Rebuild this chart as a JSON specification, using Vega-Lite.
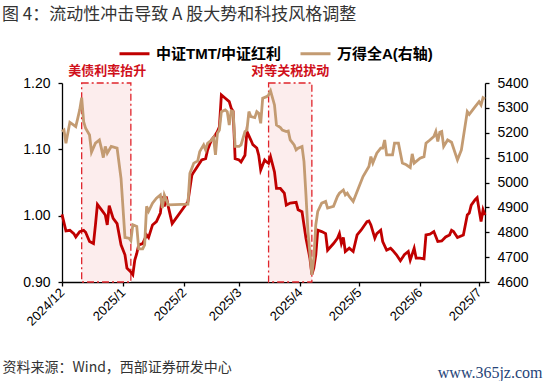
{
  "$schema": "https://vega.github.io/schema/vega-lite/v6.json",
  "width": 423,
  "height": 199,
  "autosize": {"type": "none"},
  "padding": {"left": 62, "top": 83, "right": 65, "bottom": 99},
  "background": "white",
  "config": {
    "view": {"stroke": null},
    "font": "Liberation Sans, Noto Sans CJK SC",
    "axis": {"grid": false, "domainColor": "#000000", "tickColor": "#000000", "labelColor": "#000000", "domainWidth": 1.3, "tickWidth": 1.3, "tickSize": 4, "labelFont": "Liberation Sans"}
  },
  "title": {
    "text": "图 4：流动性冲击导致 A 股大势和科技风格调整",
    "anchor": "start",
    "frame": "group",
    "dx": -60,
    "offset": 13,
    "fontSize": 17,
    "fontWeight": "normal",
    "color": "#333333",
    "font": "Noto Sans CJK SC"
  },
  "datasets": {
    "spans": [
      {"event": "美债利率抬升", "start": "2024-12-11", "end": "2025-01-05", "mid": "2024-12-24"},
      {"event": "对等关税扰动", "start": "2025-03-16", "end": "2025-04-07", "mid": "2025-03-27"}
    ],
    "tmt": [
      {"date": "2024-12-01", "value": 1.002}, {"date": "2024-12-03", "value": 0.977}, {"date": "2024-12-05", "value": 0.978},
      {"date": "2024-12-07", "value": 0.973}, {"date": "2024-12-08", "value": 0.968}, {"date": "2024-12-10", "value": 0.976},
      {"date": "2024-12-12", "value": 0.978}, {"date": "2024-12-13", "value": 0.975}, {"date": "2024-12-15", "value": 0.961},
      {"date": "2024-12-17", "value": 0.958}, {"date": "2024-12-18", "value": 0.986}, {"date": "2024-12-19", "value": 1.017},
      {"date": "2024-12-21", "value": 1.009}, {"date": "2024-12-23", "value": 1.001}, {"date": "2024-12-24", "value": 0.986},
      {"date": "2024-12-25", "value": 1.015}, {"date": "2024-12-27", "value": 0.996}, {"date": "2024-12-29", "value": 0.988},
      {"date": "2024-12-31", "value": 0.956}, {"date": "2025-01-02", "value": 0.941}, {"date": "2025-01-03", "value": 0.921},
      {"date": "2025-01-05", "value": 0.915}, {"date": "2025-01-06", "value": 0.911}, {"date": "2025-01-07", "value": 0.933},
      {"date": "2025-01-08", "value": 0.943}, {"date": "2025-01-09", "value": 0.956}, {"date": "2025-01-11", "value": 0.958},
      {"date": "2025-01-13", "value": 0.971}, {"date": "2025-01-14", "value": 0.967}, {"date": "2025-01-16", "value": 0.986},
      {"date": "2025-01-18", "value": 0.991}, {"date": "2025-01-20", "value": 1.004}, {"date": "2025-01-21", "value": 1.029},
      {"date": "2025-01-22", "value": 1.014}, {"date": "2025-01-23", "value": 1.029}, {"date": "2025-01-24", "value": 1.014},
      {"date": "2025-01-26", "value": 0.988}, {"date": "2025-02-03", "value": 1.021}, {"date": "2025-02-05", "value": 1.061},
      {"date": "2025-02-06", "value": 1.066}, {"date": "2025-02-08", "value": 1.075}, {"date": "2025-02-10", "value": 1.084},
      {"date": "2025-02-12", "value": 1.086}, {"date": "2025-02-13", "value": 1.099}, {"date": "2025-02-14", "value": 1.107},
      {"date": "2025-02-15", "value": 1.114}, {"date": "2025-02-17", "value": 1.122}, {"date": "2025-02-18", "value": 1.127},
      {"date": "2025-02-19", "value": 1.134}, {"date": "2025-02-20", "value": 1.182}, {"date": "2025-02-22", "value": 1.177},
      {"date": "2025-02-24", "value": 1.172}, {"date": "2025-02-25", "value": 1.162}, {"date": "2025-02-26", "value": 1.157},
      {"date": "2025-02-27", "value": 1.086}, {"date": "2025-03-01", "value": 1.084}, {"date": "2025-03-02", "value": 1.081},
      {"date": "2025-03-04", "value": 1.091}, {"date": "2025-03-05", "value": 1.127}, {"date": "2025-03-07", "value": 1.114},
      {"date": "2025-03-08", "value": 1.107}, {"date": "2025-03-10", "value": 1.102}, {"date": "2025-03-11", "value": 1.091},
      {"date": "2025-03-12", "value": 1.069}, {"date": "2025-03-14", "value": 1.084}, {"date": "2025-03-15", "value": 1.081},
      {"date": "2025-03-16", "value": 1.079}, {"date": "2025-03-17", "value": 1.089}, {"date": "2025-03-19", "value": 1.066},
      {"date": "2025-03-20", "value": 1.041}, {"date": "2025-03-22", "value": 1.041}, {"date": "2025-03-24", "value": 1.034},
      {"date": "2025-03-25", "value": 1.016}, {"date": "2025-03-27", "value": 1.019}, {"date": "2025-03-30", "value": 1.020},
      {"date": "2025-03-31", "value": 1.009}, {"date": "2025-04-02", "value": 1.006}, {"date": "2025-04-03", "value": 0.986},
      {"date": "2025-04-04", "value": 0.966}, {"date": "2025-04-06", "value": 0.936}, {"date": "2025-04-07", "value": 0.911},
      {"date": "2025-04-08", "value": 0.921}, {"date": "2025-04-09", "value": 0.941}, {"date": "2025-04-10", "value": 0.978},
      {"date": "2025-04-12", "value": 0.976}, {"date": "2025-04-14", "value": 0.973}, {"date": "2025-04-15", "value": 0.948},
      {"date": "2025-04-18", "value": 0.958}, {"date": "2025-04-20", "value": 0.966}, {"date": "2025-04-21", "value": 0.973},
      {"date": "2025-04-22", "value": 0.958}, {"date": "2025-04-23", "value": 0.967}, {"date": "2025-04-24", "value": 0.946},
      {"date": "2025-04-26", "value": 0.951}, {"date": "2025-04-28", "value": 0.946}, {"date": "2025-04-30", "value": 0.971},
      {"date": "2025-05-02", "value": 0.978}, {"date": "2025-05-05", "value": 0.991}, {"date": "2025-05-06", "value": 0.992},
      {"date": "2025-05-07", "value": 0.986}, {"date": "2025-05-09", "value": 0.966}, {"date": "2025-05-10", "value": 0.973},
      {"date": "2025-05-12", "value": 0.978}, {"date": "2025-05-13", "value": 0.961}, {"date": "2025-05-15", "value": 0.948},
      {"date": "2025-05-17", "value": 0.951}, {"date": "2025-05-18", "value": 0.948}, {"date": "2025-05-20", "value": 0.941},
      {"date": "2025-05-22", "value": 0.932}, {"date": "2025-05-24", "value": 0.941}, {"date": "2025-05-26", "value": 0.946},
      {"date": "2025-05-27", "value": 0.933}, {"date": "2025-05-29", "value": 0.951}, {"date": "2025-05-30", "value": 0.936},
      {"date": "2025-06-01", "value": 0.936}, {"date": "2025-06-03", "value": 0.935}, {"date": "2025-06-04", "value": 0.971},
      {"date": "2025-06-06", "value": 0.972}, {"date": "2025-06-08", "value": 0.976}, {"date": "2025-06-10", "value": 0.961},
      {"date": "2025-06-12", "value": 0.962}, {"date": "2025-06-14", "value": 0.968}, {"date": "2025-06-16", "value": 0.971},
      {"date": "2025-06-17", "value": 0.978}, {"date": "2025-06-18", "value": 0.976}, {"date": "2025-06-20", "value": 0.967},
      {"date": "2025-06-23", "value": 0.971}, {"date": "2025-06-25", "value": 1.001}, {"date": "2025-06-26", "value": 1.004},
      {"date": "2025-06-27", "value": 1.016}, {"date": "2025-06-29", "value": 1.024}, {"date": "2025-06-30", "value": 1.027},
      {"date": "2025-07-01", "value": 1.009}, {"date": "2025-07-02", "value": 0.991}, {"date": "2025-07-03", "value": 1.009},
      {"date": "2025-07-04", "value": 1.001}
    ],
    "wind": [
      {"date": "2024-12-01", "value": 5205}, {"date": "2024-12-02", "value": 5211}, {"date": "2024-12-03", "value": 5158},
      {"date": "2024-12-05", "value": 5242}, {"date": "2024-12-07", "value": 5231}, {"date": "2024-12-08", "value": 5225},
      {"date": "2024-12-09", "value": 5258}, {"date": "2024-12-10", "value": 5292}, {"date": "2024-12-11", "value": 5341},
      {"date": "2024-12-12", "value": 5245}, {"date": "2024-12-13", "value": 5218}, {"date": "2024-12-15", "value": 5191},
      {"date": "2024-12-16", "value": 5122}, {"date": "2024-12-18", "value": 5158}, {"date": "2024-12-20", "value": 5171},
      {"date": "2024-12-21", "value": 5138}, {"date": "2024-12-22", "value": 5100}, {"date": "2024-12-23", "value": 5145},
      {"date": "2024-12-24", "value": 5118}, {"date": "2024-12-26", "value": 5145}, {"date": "2024-12-29", "value": 5138},
      {"date": "2024-12-31", "value": 5017}, {"date": "2025-01-02", "value": 4779}, {"date": "2025-01-04", "value": 4776},
      {"date": "2025-01-05", "value": 4766}, {"date": "2025-01-06", "value": 4830}, {"date": "2025-01-08", "value": 4823},
      {"date": "2025-01-09", "value": 4733}, {"date": "2025-01-11", "value": 4733}, {"date": "2025-01-12", "value": 4749},
      {"date": "2025-01-13", "value": 4904}, {"date": "2025-01-14", "value": 4884}, {"date": "2025-01-16", "value": 4917},
      {"date": "2025-01-18", "value": 4937}, {"date": "2025-01-20", "value": 4950}, {"date": "2025-01-21", "value": 4897},
      {"date": "2025-01-22", "value": 4950}, {"date": "2025-01-24", "value": 4910}, {"date": "2025-02-03", "value": 4913},
      {"date": "2025-02-04", "value": 5037}, {"date": "2025-02-05", "value": 5057}, {"date": "2025-02-06", "value": 5078},
      {"date": "2025-02-08", "value": 5087}, {"date": "2025-02-09", "value": 5124}, {"date": "2025-02-10", "value": 5138},
      {"date": "2025-02-11", "value": 5151}, {"date": "2025-02-12", "value": 5131}, {"date": "2025-02-13", "value": 5158},
      {"date": "2025-02-15", "value": 5171}, {"date": "2025-02-16", "value": 5181}, {"date": "2025-02-17", "value": 5111},
      {"date": "2025-02-18", "value": 5198}, {"date": "2025-02-19", "value": 5211}, {"date": "2025-02-20", "value": 5285},
      {"date": "2025-02-22", "value": 5292}, {"date": "2025-02-23", "value": 5285}, {"date": "2025-02-24", "value": 5231},
      {"date": "2025-02-25", "value": 5288}, {"date": "2025-02-26", "value": 5285}, {"date": "2025-02-27", "value": 5145},
      {"date": "2025-03-01", "value": 5145}, {"date": "2025-03-02", "value": 5151}, {"date": "2025-03-04", "value": 5205},
      {"date": "2025-03-05", "value": 5211}, {"date": "2025-03-06", "value": 5285}, {"date": "2025-03-07", "value": 5265},
      {"date": "2025-03-09", "value": 5261}, {"date": "2025-03-10", "value": 5285}, {"date": "2025-03-11", "value": 5278},
      {"date": "2025-03-12", "value": 5238}, {"date": "2025-03-13", "value": 5339}, {"date": "2025-03-15", "value": 5345},
      {"date": "2025-03-16", "value": 5352}, {"date": "2025-03-17", "value": 5368}, {"date": "2025-03-19", "value": 5312},
      {"date": "2025-03-20", "value": 5231}, {"date": "2025-03-22", "value": 5221}, {"date": "2025-03-23", "value": 5211},
      {"date": "2025-03-25", "value": 5205}, {"date": "2025-03-26", "value": 5207}, {"date": "2025-03-27", "value": 5171},
      {"date": "2025-03-29", "value": 5151}, {"date": "2025-03-30", "value": 5131}, {"date": "2025-03-31", "value": 5138},
      {"date": "2025-04-02", "value": 5145}, {"date": "2025-04-03", "value": 5084}, {"date": "2025-04-04", "value": 4950},
      {"date": "2025-04-05", "value": 4803}, {"date": "2025-04-07", "value": 4629}, {"date": "2025-04-08", "value": 4696},
      {"date": "2025-04-09", "value": 4830}, {"date": "2025-04-10", "value": 4884}, {"date": "2025-04-12", "value": 4917},
      {"date": "2025-04-14", "value": 4924}, {"date": "2025-04-15", "value": 4897}, {"date": "2025-04-18", "value": 4904},
      {"date": "2025-04-20", "value": 4944}, {"date": "2025-04-21", "value": 4957}, {"date": "2025-04-23", "value": 4970},
      {"date": "2025-04-24", "value": 4950}, {"date": "2025-04-25", "value": 4957}, {"date": "2025-04-26", "value": 4944},
      {"date": "2025-04-28", "value": 4924}, {"date": "2025-05-01", "value": 4984}, {"date": "2025-05-03", "value": 5024},
      {"date": "2025-05-06", "value": 5064}, {"date": "2025-05-07", "value": 5104}, {"date": "2025-05-08", "value": 5078},
      {"date": "2025-05-10", "value": 5118}, {"date": "2025-05-12", "value": 5138}, {"date": "2025-05-13", "value": 5138},
      {"date": "2025-05-14", "value": 5171}, {"date": "2025-05-15", "value": 5111}, {"date": "2025-05-18", "value": 5111},
      {"date": "2025-05-19", "value": 5158}, {"date": "2025-05-21", "value": 5158}, {"date": "2025-05-23", "value": 5078},
      {"date": "2025-05-25", "value": 5071}, {"date": "2025-05-27", "value": 5060}, {"date": "2025-05-28", "value": 5115},
      {"date": "2025-05-29", "value": 5078}, {"date": "2025-06-01", "value": 5098}, {"date": "2025-06-03", "value": 5104},
      {"date": "2025-06-04", "value": 5158}, {"date": "2025-06-06", "value": 5171}, {"date": "2025-06-08", "value": 5185},
      {"date": "2025-06-09", "value": 5205}, {"date": "2025-06-10", "value": 5165}, {"date": "2025-06-11", "value": 5202},
      {"date": "2025-06-12", "value": 5205}, {"date": "2025-06-13", "value": 5145}, {"date": "2025-06-15", "value": 5171},
      {"date": "2025-06-17", "value": 5162}, {"date": "2025-06-20", "value": 5091}, {"date": "2025-06-22", "value": 5131},
      {"date": "2025-06-25", "value": 5285}, {"date": "2025-06-26", "value": 5274}, {"date": "2025-06-29", "value": 5305},
      {"date": "2025-07-01", "value": 5325}, {"date": "2025-07-02", "value": 5312}, {"date": "2025-07-03", "value": 5341},
      {"date": "2025-07-04", "value": 5336}
    ]
  },
  "layer": [
    {
      "layer": [
        {
          "data": {"name": "spans"},
          "mark": {"type": "rect", "fill": "#FCEDED", "stroke": "#E0242B", "strokeDash": [7, 3, 2, 3], "strokeWidth": 1.3},
          "encoding": {
            "x": {"field": "start", "type": "temporal", "scale": {"type": "utc"}},
            "x2": {"field": "end"}
          }
        },
        {
          "data": {"name": "spans"},
          "mark": {"type": "text", "color": "#D0101B", "fontSize": 13, "fontWeight": "bold", "font": "Noto Sans CJK SC", "dy": -12, "baseline": "middle", "align": "center", "clip": false},
          "encoding": {
            "x": {"field": "mid", "type": "temporal", "scale": {"type": "utc"}},
            "y": {"datum": 1.2, "type": "quantitative"},
            "text": {"field": "event"}
          }
        },
        {
          "data": {"name": "tmt"},
          "mark": {"type": "line", "strokeWidth": 2.8},
          "encoding": {
            "x": {
              "field": "date", "type": "temporal",
              "scale": {"type": "utc", "domain": [{"year": 2024, "month": 12, "date": 1, "utc": true}, {"year": 2025, "month": 7, "date": 4, "utc": true}]},
              "axis": {
                "values": [
                  {"year": 2024, "month": 12, "date": 1, "utc": true},
                  {"year": 2025, "month": 1, "date": 1, "utc": true},
                  {"year": 2025, "month": 2, "date": 1, "utc": true},
                  {"year": 2025, "month": 3, "date": 1, "utc": true},
                  {"year": 2025, "month": 4, "date": 1, "utc": true},
                  {"year": 2025, "month": 5, "date": 1, "utc": true},
                  {"year": 2025, "month": 6, "date": 1, "utc": true},
                  {"year": 2025, "month": 7, "date": 1, "utc": true}
                ],
                "labelExpr": "utcFormat(datum.value, '%Y/%-m')",
                "labelAngle": -45,
                "labelAlign": "right",
                "labelBaseline": "middle",
                "labelFontSize": 13,
                "labelPadding": 4,
                "title": "资料来源：Wind，西部证券研发中心",
                "titleX": -60,
                "titleY": 85,
                "titleAlign": "left",
                "titleBaseline": "middle",
                "titleFontSize": 14,
                "titleFontWeight": "normal",
                "titleColor": "#333333",
                "titleFont": "Noto Sans CJK SC"
              }
            },
            "y": {
              "field": "value", "type": "quantitative",
              "scale": {"domain": [0.9, 1.2], "nice": false, "zero": false},
              "axis": {"orient": "left", "values": [0.9, 0.95, 1.0, 1.05, 1.1, 1.15, 1.2], "format": ".2f", "labelFontSize": 14, "labelPadding": 8, "title": null}
            },
            "color": {
              "datum": "中证TMT/中证红利",
              "scale": {"domain": ["中证TMT/中证红利", "万得全A(右轴)"], "range": ["#C00000", "#C39B72"]},
              "legend": {
                "title": null, "orient": "none", "legendX": 56, "legendY": -46, "direction": "horizontal",
                "symbolType": "stroke", "symbolSize": 900, "symbolStrokeWidth": 3,
                "labelFontSize": 15, "labelFontWeight": "bold", "labelColor": "#000000", "labelFont": "Liberation Sans, Noto Sans CJK SC",
                "labelOffset": 5, "columnPadding": 13
              }
            }
          }
        }
      ]
    },
    {
      "data": {"name": "wind"},
      "mark": {"type": "line", "strokeWidth": 2.8},
      "encoding": {
        "x": {"field": "date", "type": "temporal", "scale": {"type": "utc"}},
        "y": {
          "field": "value", "type": "quantitative",
          "scale": {"domain": [4600, 5400], "nice": false, "zero": false},
          "axis": {
            "orient": "right", "values": [4600, 4700, 4800, 4900, 5000, 5100, 5200, 5300, 5400], "format": "d", "labelFontSize": 14, "labelPadding": 8,
            "title": "www.365jz.com", "titleAngle": 0, "titleX": 57, "titleY": 289, "titleAlign": "right", "titleBaseline": "middle",
            "titleFontSize": 16, "titleFontWeight": "normal", "titleColor": "#264478", "titleFont": "Liberation Serif"
          }
        },
        "color": {"datum": "万得全A(右轴)"}
      }
    }
  ],
  "resolve": {"scale": {"y": "independent"}}
}
